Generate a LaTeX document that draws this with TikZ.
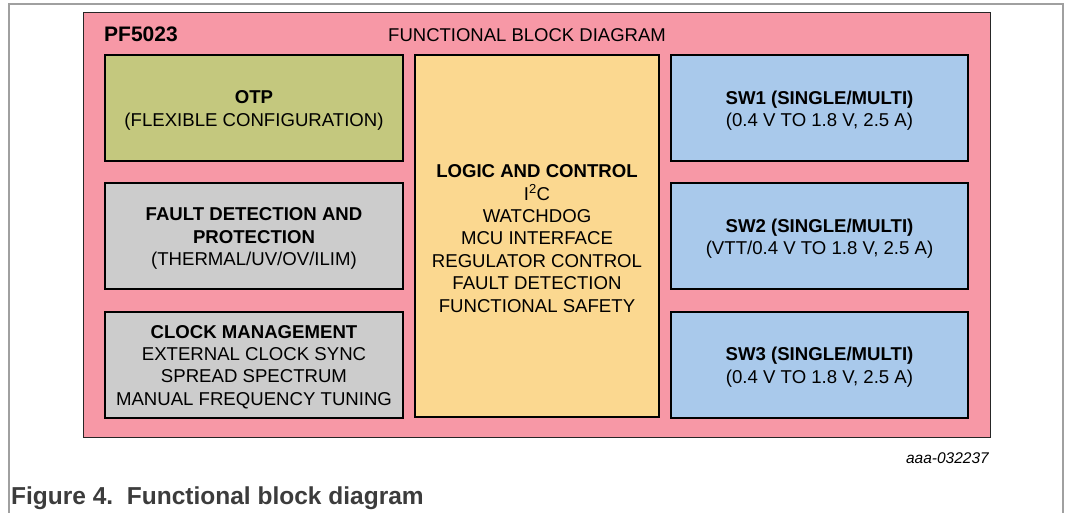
\documentclass[tikz,border=0pt]{standalone}
\usepackage{fontspec}
\setmainfont{Liberation Sans}
\definecolor{pinkbg}{RGB}{247,152,166}
\definecolor{otpgreen}{RGB}{196,200,126}
\definecolor{blkgray}{RGB}{204,204,204}
\definecolor{logicorange}{RGB}{251,216,144}
\definecolor{swblue}{RGB}{169,201,235}
\definecolor{framegray}{RGB}{160,160,160}
\definecolor{capgray}{RGB}{60,60,60}
\tikzset{
  blk/.style={draw=black, line width=2pt, inner sep=0pt},
  leftblk/.style={blk, minimum width=298pt, minimum height=106pt},
  swblk/.style={blk, fill=swblue, minimum width=297pt, minimum height=106pt},
  blktext/.style={align=center, inner sep=0pt, yshift=-2.5pt,
    font=\fontsize{18.6}{22.4}\selectfont},
}
\begin{document}
\begin{tikzpicture}[x=1pt,y=-1pt]
\useasboundingbox (0,0) rectangle (1066,513);
% outer page frame
\draw[framegray, line width=1.2pt] (9,513) -- (9,4) -- (1063,4) -- (1063,513);
% pink chip box
\node[draw=black!85, line width=1.3pt, fill=pinkbg, minimum width=907pt, minimum height=425pt, inner sep=0pt] (chip) at (537,225) {};
\node[anchor=west, font=\fontsize{21}{24}\selectfont\bfseries, inner sep=0pt] (pf) at (104,34) {PF5023};
\node[font=\fontsize{18.5}{22}\selectfont, inner sep=0pt] (fbd) at (527,35) {FUNCTIONAL BLOCK DIAGRAM};
% left column
\node[leftblk, fill=otpgreen] (otp) at (254,108) {};
\node[blktext] (otpt) at (otp.center) {\textbf{OTP}\\(FLEXIBLE CONFIGURATION)};
\node[leftblk, fill=blkgray] (fault) at (254,236) {};
\node[blktext] (faultt) at (fault.center) {\textbf{FAULT DETECTION AND}\\\textbf{PROTECTION}\\(THERMAL/UV/OV/ILIM)};
\node[leftblk, fill=blkgray] (clock) at (254,364.5) {};
\node[blktext] (clockt) at (clock.center) {\textbf{CLOCK MANAGEMENT}\\EXTERNAL CLOCK SYNC\\SPREAD SPECTRUM\\MANUAL FREQUENCY TUNING};
% middle
\node[blk, fill=logicorange, minimum width=244pt, minimum height=362pt] (logic) at (537,236) {};
\node[blktext] (logict) at (logic.center) {\textbf{LOGIC AND CONTROL}\\I\textsuperscript{2}C\\WATCHDOG\\MCU INTERFACE\\REGULATOR CONTROL\\FAULT DETECTION\\FUNCTIONAL SAFETY};
% right column
\node[swblk] (sw1) at (819.5,108) {};
\node[blktext] (sw1t) at (sw1.center) {\textbf{SW1 (SINGLE/MULTI)}\\(0.4 V TO 1.8 V, 2.5 A)};
\node[swblk] (sw2) at (819.5,236) {};
\node[blktext] (sw2t) at (sw2.center) {\textbf{SW2 (SINGLE/MULTI)}\\(VTT/0.4 V TO 1.8 V, 2.5 A)};
\node[swblk] (sw3) at (819.5,364.5) {};
\node[blktext] (sw3t) at (sw3.center) {\textbf{SW3 (SINGLE/MULTI)}\\(0.4 V TO 1.8 V, 2.5 A)};
% id and caption
\node[anchor=east, font=\fontsize{15.5}{18}\selectfont\itshape, inner sep=0pt] (aaa) at (989,458) {aaa-032237};
\node[anchor=west, font=\fontsize{24.5}{27}\selectfont\bfseries, text=capgray, inner sep=0pt] (cap) at (11,498) {Figure 4.\ \ Functional block diagram};
\end{tikzpicture}
\end{document}
